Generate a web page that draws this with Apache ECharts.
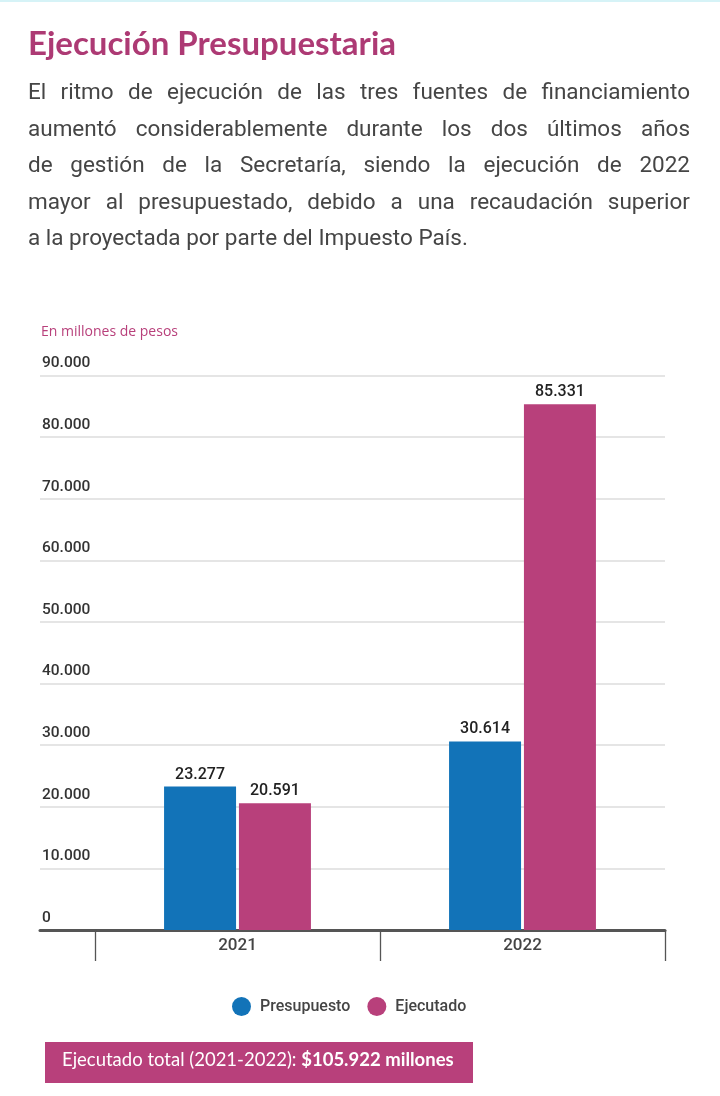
<!DOCTYPE html>
<html>
<head>
<meta charset="utf-8">
<script src="https://cdn.jsdelivr.net/npm/echarts@6/dist/echarts.min.js"></script>
<style>
  html, body { margin: 0; padding: 0; background: #fff; }
  #page { position: relative; width: 720px; height: 1096px; overflow: hidden; border-top: 2px solid #d6f3f7; box-sizing: border-box; }
  #title { position: absolute; left: 28px; top: 20px; font-family: Lato, "Open Sans", sans-serif; font-weight: 700; font-size: 33px; line-height: 40px; color: #ad3a74; white-space: nowrap; }
  #intro { position: absolute; left: 28px; top: 71px; width: 662px; font-family: Roboto, sans-serif; font-size: 22.5px; line-height: 36.5px; color: #454545; }
  #intro div { text-align: justify; text-align-last: justify; white-space: nowrap; }
  #intro div.last { text-align-last: left; }
  #chart { position: absolute; left: 0; top: 0; width: 720px; height: 1096px; }
</style>
</head>
<body>
<div id="page">
  <div id="chart"></div>
  <div id="title">Ejecución Presupuestaria</div>
  <div id="intro">
    <div>El ritmo de ejecución de las tres fuentes de financiamiento</div>
    <div>aumentó considerablemente durante los dos últimos años</div>
    <div>de gestión de la Secretaría, siendo la ejecución de 2022</div>
    <div>mayor al presupuestado, debido a una recaudación superior</div>
    <div class="last">a la proyectada por parte del Impuesto País.</div>
  </div>
</div>
<script>
// datos
var years = ['2021', '2022'];
var presupuesto = [23277, 30614];
var ejecutado = [20591, 85331];
var seriesNames = ['Presupuesto', 'Ejecutado'];

var azul = '#1273b8';
var magenta = '#b8407b';

// 20591 -> "20.591"
function fmt(v) {
    return String(v).replace(/\B(?=(\d{3})+(?!\d))/g, '.');
}

var myChart = echarts.init(document.getElementById('chart'));

var barLabel = {
    show: true,
    position: 'top',
    distance: 4,
    fontFamily: 'Roboto',
    fontSize: 16,
    fontWeight: 500,
    color: '#222',
    formatter: function (p) { return fmt(p.value); }
};

var option = {
    animation: false,
    textStyle: { fontFamily: 'Roboto' },
    grid: [
        { left: 95, right: 55, top: 373.5, bottom: 168, outerBoundsMode: 'none', containLabel: false },
        { left: 40, width: 55, top: 373.5, bottom: 168, outerBoundsMode: 'none', containLabel: false }
    ],
    legend: {
        data: seriesNames,
        icon: 'circle',
        itemWidth: 19,
        itemHeight: 19,
        itemGap: 17,
        left: 227,
        top: 990,
        textStyle: { fontSize: 16, fontWeight: 500, color: '#444', padding: [0, 0, 0, 4] }
    },
    xAxis: [{
        type: 'category',
        data: years,
        gridIndex: 0,
        axisLine: { lineStyle: { color: '#555', width: 3 } },
        axisTick: { show: true, length: 31, lineStyle: { color: '#555', width: 1.3 } },
        axisLabel: { fontSize: 17, fontWeight: 500, color: '#444', margin: 7 }
    }, {
        type: 'category',
        data: [''],
        gridIndex: 1,
        axisLine: { lineStyle: { color: '#555', width: 3 } },
        axisTick: { show: false },
        axisLabel: { show: false }
    }],
    yAxis: [{
        type: 'value',
        gridIndex: 0,
        min: 0,
        max: 90000,
        interval: 10000,
        axisLine: { show: false },
        axisTick: { show: false },
        splitLine: { lineStyle: { color: '#dcdcdc', width: 1.5 } },
        axisLabel: {
            margin: 53,
            align: 'left',
            verticalAlign: 'bottom',
            padding: [0, 0, 4, 0],
            fontSize: 15.5,
            fontWeight: 500,
            color: '#333',
            formatter: function (v) { return fmt(v); }
        }
    }, {
        type: 'value',
        gridIndex: 1,
        min: 0,
        max: 90000,
        interval: 10000,
        axisLine: { show: false },
        axisTick: { show: false },
        axisLabel: { show: false },
        splitLine: { lineStyle: { color: '#dcdcdc', width: 1.5 } }
    }],
    series: [{
        name: seriesNames[0],
        type: 'bar',
        data: presupuesto,
        barWidth: 72,
        barGap: '4%',
        itemStyle: { color: azul },
        label: barLabel
    }, {
        name: seriesNames[1],
        type: 'bar',
        data: ejecutado,
        barWidth: 72,
        barGap: '4%',
        itemStyle: { color: magenta },
        label: barLabel
    }],
    graphic: [{
        type: 'text',
        left: 41,
        top: 323,
        style: { text: 'En millones de pesos', fontFamily: 'Open Sans', fontSize: 14, fill: magenta }
    }, {
        type: 'rect',
        left: 45,
        top: 1040,
        shape: { width: 428, height: 41 },
        style: { fill: magenta }
    }, {
        type: 'text',
        left: 62,
        top: 1049,
        style: {
            text: '{n|Ejecutado total (2021-2022): }{b|$105.922 millones}',
            rich: {
                n: { fontFamily: 'Lato', fontSize: 18.5, fill: '#fff' },
                b: { fontFamily: 'Lato', fontSize: 18.5, fontWeight: 700, fill: '#fff' }
            }
        }
    }]
};

myChart.setOption(option);
</script>
</body>
</html>
